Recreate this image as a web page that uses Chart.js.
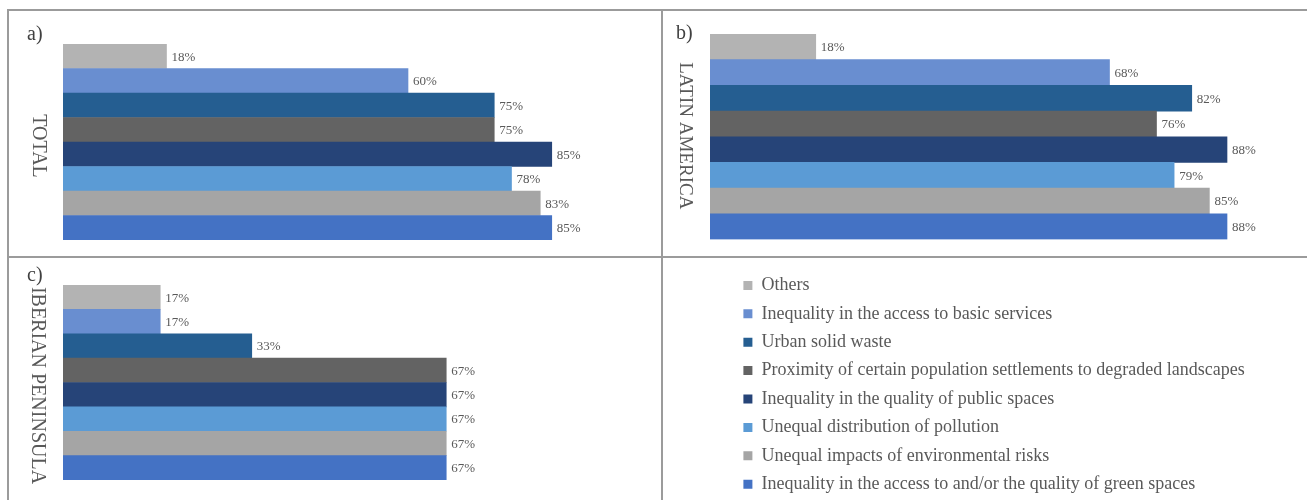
<!DOCTYPE html>
<html>
<head>
<meta charset="utf-8">
<script src="https://cdn.jsdelivr.net/npm/chart.js@4/dist/chart.umd.min.js"></script>
<style>
  html, body { margin: 0; padding: 0; background: #ffffff; }
  #page { position: relative; width: 1307px; height: 500px; overflow: hidden; background: #ffffff; }
  .rule { position: absolute; background: #9b9b9b; }
  canvas { position: absolute; display: block; }
</style>
</head>
<body>
<div id="page">
  <canvas id="chartTotal" width="654" height="247" style="left:8px;top:10px"></canvas>
  <canvas id="chartLatin" width="644" height="247" style="left:663px;top:10px"></canvas>
  <canvas id="chartIberian" width="654" height="243" style="left:8px;top:257px"></canvas>
  <canvas id="chartLegend" width="644" height="252" style="left:663px;top:257px"></canvas>
  <!-- panel frame -->
  <div class="rule" style="left:7px;top:9px;width:1300px;height:2px"></div>
  <div class="rule" style="left:7px;top:256px;width:1300px;height:2px"></div>
  <div class="rule" style="left:7px;top:9px;width:2px;height:491px"></div>
  <div class="rule" style="left:661px;top:9px;width:2px;height:491px"></div>
</div>
<script>
// Survey issues, listed top to bottom
const categories = [
  'Others',
  'Inequality in the access to basic services',
  'Urban solid waste',
  'Proximity of certain population settlements to degraded landscapes',
  'Inequality in the quality of public spaces',
  'Unequal distribution of pollution',
  'Unequal impacts of environmental risks',
  'Inequality in the access to and/or the quality of green spaces'
];

// Share of respondents (%) per region
const totalValues = [18, 60, 75, 75, 85, 78, 83, 85];
const latinAmericaValues = [18, 68, 82, 76, 88, 79, 85, 88];
const iberianValues = [17, 17, 33, 67, 67, 67, 67, 67];

const barColors = ['#b3b3b3', '#698ed0', '#255e91', '#636363', '#264478', '#5b9bd5', '#a5a5a5', '#4472c4'];

const panelTags = ['a)', 'b)', 'c)'];
const regionTitles = ['TOTAL', 'LATIN AMERICA', 'IBERIAN PENINSULA'];
const axisMax = 100;

const SERIF = '"Liberation Serif", "Times New Roman", serif';
const TEXT_GREY = '#595959';

// Draws the percentage at the end of each bar
const valueLabels = {
  id: 'valueLabels',
  afterDatasetsDraw(chart) {
    const ctx = chart.ctx;
    const meta = chart.getDatasetMeta(0);
    const values = chart.data.datasets[0].data;
    ctx.save();
    ctx.font = '13px ' + SERIF;
    ctx.fillStyle = TEXT_GREY;
    ctx.textAlign = 'left';
    ctx.textBaseline = 'middle';
    meta.data.forEach((bar, i) => {
      ctx.fillText(values[i] + '%', bar.x + 5, bar.y + 1);
    });
    ctx.restore();
  }
};

// Panel letter and the region name written down the left side
const panelText = {
  id: 'panelText',
  afterDraw(chart, args, opts) {
    const ctx = chart.ctx;
    const area = chart.chartArea;
    ctx.save();
    ctx.fillStyle = '#404040';
    ctx.font = '20px ' + SERIF;
    ctx.textAlign = 'left';
    ctx.textBaseline = 'alphabetic';
    ctx.fillText(opts.tag, opts.tagX, opts.tagY);

    ctx.fillStyle = TEXT_GREY;
    ctx.font = opts.titleSize + 'px ' + SERIF;
    ctx.translate(opts.titleX, (area.top + area.bottom) / 2 + opts.titleShift);
    ctx.rotate(Math.PI / 2);
    ctx.textAlign = 'center';
    ctx.textBaseline = 'middle';
    ctx.fillText(opts.title, 0, 0);
    ctx.restore();
  }
};

function barPanel(canvasId, values, idx, padding, text) {
  return new Chart(document.getElementById(canvasId), {
    type: 'bar',
    data: {
      labels: categories,
      datasets: [{
        data: values,
        backgroundColor: barColors,
        borderWidth: 0,
        barPercentage: 1,
        categoryPercentage: 1
      }]
    },
    options: {
      indexAxis: 'y',
      responsive: false,
      animation: false,
      layout: { padding: padding },
      scales: {
        x: { display: false, min: 0, max: axisMax },
        y: { display: false }
      },
      plugins: {
        legend: { display: false },
        tooltip: { enabled: false },
        panelText: Object.assign({ tag: panelTags[idx], title: regionTitles[idx] }, text)
      }
    },
    plugins: [valueLabels, panelText]
  });
}

barPanel('chartTotal', totalValues, 0, { left: 55, right: 24, top: 34, bottom: 17 },
  { tagX: 19, tagY: 30, titleX: 30, titleSize: 20, titleShift: 4 });
barPanel('chartLatin', latinAmericaValues, 1, { left: 47, right: 9.5, top: 24, bottom: 17.5 },
  { tagX: 13, tagY: 29, titleX: 22, titleSize: 19, titleShift: -1 });
barPanel('chartIberian', iberianValues, 2, { left: 55, right: 27, top: 28, bottom: 20 },
  { tagX: 19, tagY: 24, titleX: 29, titleSize: 20, titleShift: 3 });

// Shared legend for the three panels
new Chart(document.getElementById('chartLegend'), {
  type: 'bar',
  data: {
    labels: [],
    datasets: categories.map((name, i) => ({
      label: name,
      data: [],
      backgroundColor: barColors[i],
      borderWidth: 0
    }))
  },
  options: {
    responsive: false,
    animation: false,
    layout: { padding: { left: 70, top: 9, right: 0, bottom: 0 } },
    scales: { x: { display: false }, y: { display: false } },
    plugins: {
      tooltip: { enabled: false },
      legend: {
        display: true,
        position: 'left',
        align: 'start',
        maxWidth: 570,
        labels: {
          boxWidth: 9,
          boxHeight: 9,
          padding: 10.4,
          color: TEXT_GREY,
          font: { family: SERIF, size: 18 }
        }
      }
    }
  }
});
</script>
</body>
</html>
